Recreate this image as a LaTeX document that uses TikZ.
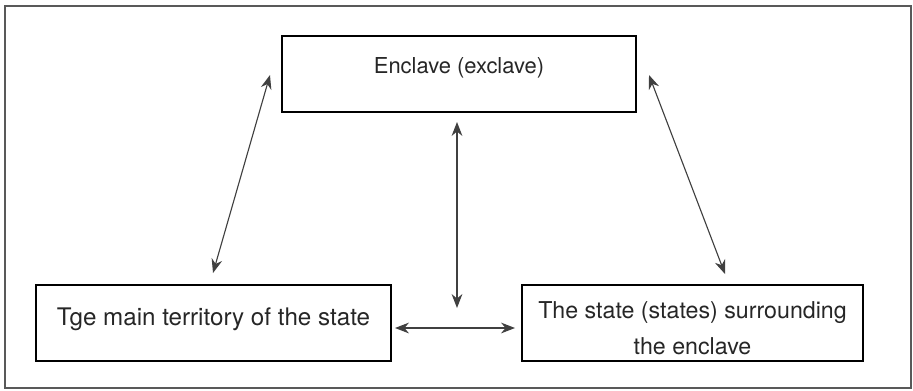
\documentclass[tikz,border=0pt]{standalone}
\usepackage{fontspec}
\setmainfont{TeX Gyre Heros}
\usetikzlibrary{arrows.meta}
\begin{document}
\begin{tikzpicture}[x=0.025cm, y=-0.025cm,
	box/.style={draw, line width=0.9pt, minimum height=1.9cm, inner sep=0pt, align=center, text=black!85},
	link/.style={{Stealth[length=3.5mm,width=2.7mm]}-{Stealth[length=3.5mm,width=2.7mm]},
		line width=0.8pt, black!75}]
	\useasboundingbox (0,0) rectangle (913,390);
	%outer frame
	\draw[line width=1pt, black!65] (5,6) rectangle (911,388);
	
	%boxes
	\node[box, minimum width=8.85cm, text depth=0.43cm, font=\fontsize{15.6}{20}\selectfont] (enclave) at (459,74){Enclave (exclave)};
	\node[box, minimum width=8.875cm, text depth=0.34cm, font=\fontsize{17.2}{22}\selectfont] (mainland) at (213.5,323){Tge main territory of the state};
	\node[box, minimum width=8.525cm, font=\fontsize{16.5}{25.5}\selectfont] (surround) at (692.5,323){\rule{0pt}{0.675cm}The state (states) surrounding\\the enclave};
	
	%arrow ends
	\coordinate (l1) at (213,273);
	\coordinate (l2) at (270,75);
	\coordinate (r1) at (725,274);
	\coordinate (r2) at (649,75);
	\coordinate (v1) at (457,308);
	\coordinate (v2) at (457,122);
	\coordinate (h1) at (395,328);
	\coordinate (h2) at (515,328);
	
	\foreach \a/\b in {l1/l2, r1/r2, v1/v2, h1/h2}{
		\draw[link] (\a) -- (\b);
	}
\end{tikzpicture}
\end{document}
